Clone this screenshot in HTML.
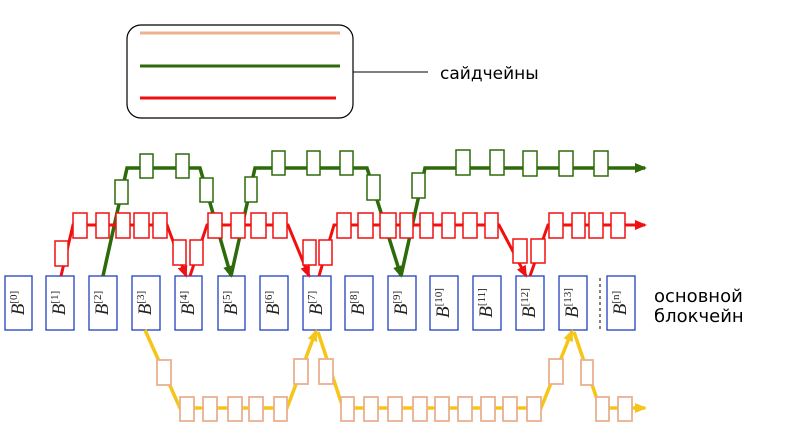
<!DOCTYPE html>
<html><head><meta charset="utf-8"><style>body{margin:0;background:#fff;position:relative;width:799px;height:445px;overflow:hidden}svg{display:block;position:absolute;left:0;top:0}
.b{position:absolute;top:276px;width:54px;height:28px;line-height:28px;text-align:center;font-family:"Liberation Serif",serif;font-style:italic;font-size:19px;color:#222;transform-origin:0 0;transform:rotate(-90deg);white-space:nowrap}
.b sup{font-style:normal;font-size:11px;vertical-align:7px;line-height:0}</style></head><body>
<svg width="799" height="445" viewBox="0 0 799 445" xmlns="http://www.w3.org/2000/svg" font-family="DejaVu Sans, sans-serif">
<defs>
<marker id="ag" markerWidth="12" markerHeight="10" refX="10" refY="5" orient="auto" markerUnits="userSpaceOnUse"><path d="M0,0L12,5L0,10z" fill="#2d6a0a"/></marker>
<marker id="ar" markerWidth="12" markerHeight="10" refX="10" refY="5" orient="auto" markerUnits="userSpaceOnUse"><path d="M0,0L12,5L0,10z" fill="#f01010"/></marker>
<marker id="ay" markerWidth="12" markerHeight="10" refX="10" refY="5" orient="auto" markerUnits="userSpaceOnUse"><path d="M0,0L12,5L0,10z" fill="#f5c518"/></marker>
</defs>
<rect x="127" y="25" width="226" height="93" rx="14" fill="#fff" stroke="#000" stroke-width="1.2"/>
<line x1="140" y1="33" x2="340" y2="33" stroke="#f0b090" stroke-width="3"/>
<line x1="140" y1="66" x2="340" y2="66" stroke="#2d6a0a" stroke-width="3"/>
<line x1="140" y1="98" x2="336" y2="98" stroke="#f01010" stroke-width="3"/>
<line x1="353" y1="72" x2="428" y2="72" stroke="#000" stroke-width="1"/>
<text x="440" y="79" font-size="17">сайдчейны</text>
<text x="654" y="302" font-size="18">основной</text>
<text x="654" y="322" font-size="18">блокчейн</text>
<line x1="600" y1="278" x2="600" y2="330" stroke="#000" stroke-dasharray="3,3" stroke-width="1"/>
<g fill="#fff" stroke="#2040c0" stroke-width="1.3">
<rect x="5" y="276" width="27" height="54"/><rect x="46" y="276" width="28" height="54"/><rect x="89" y="276" width="28" height="54"/><rect x="132" y="276" width="28" height="54"/><rect x="175" y="276" width="27" height="54"/><rect x="218" y="276" width="27" height="54"/><rect x="260" y="276" width="28" height="54"/><rect x="303" y="276" width="28" height="54"/><rect x="345" y="276" width="28" height="54"/><rect x="388" y="276" width="28" height="54"/><rect x="430" y="276" width="28" height="54"/><rect x="473" y="276" width="28" height="54"/><rect x="516" y="276" width="28" height="54"/><rect x="559" y="276" width="28" height="54"/><rect x="607" y="276" width="28" height="54"/>
</g>
<g fill="none" stroke="#2d6a0a" stroke-width="3.5">
<path d="M103,276 L127,168 L200,168 L231,276" marker-end="url(#ag)"/>
<path d="M231,276 L255,168 L367,168 L401,276" marker-end="url(#ag)"/>
<path d="M401,276 L425,168 L645,168" marker-end="url(#ag)"/>
</g>
<g fill="#fff" stroke="#2d6a0a" stroke-width="1.5">
<rect x="115" y="180" width="13" height="24"/><rect x="140" y="154" width="13" height="24"/><rect x="176" y="154" width="13" height="24"/><rect x="200" y="178" width="13" height="24"/>
<rect x="245" y="177" width="12" height="25"/><rect x="272" y="151" width="13" height="24"/><rect x="307" y="151" width="13" height="24"/><rect x="340" y="151" width="13" height="24"/><rect x="367" y="175" width="13" height="25"/>
<rect x="412" y="173" width="13" height="25"/><rect x="456" y="150" width="14" height="25"/><rect x="490" y="150" width="14" height="25"/><rect x="523" y="151" width="14" height="25"/><rect x="559" y="151" width="14" height="25"/><rect x="594" y="151" width="14" height="25"/>
</g>
<g fill="none" stroke="#f01010" stroke-width="3">
<path d="M61,276 L73,225 L167,225 L186,276" marker-end="url(#ar)"/>
<path d="M190,276 L207,225 L288,225 L309,276" marker-end="url(#ar)"/>
<path d="M319,276 L334,225 L499,225 L526,276" marker-end="url(#ar)"/>
<path d="M530,276 L548,225 L645,225" marker-end="url(#ar)"/>
</g>
<g fill="#fff" stroke="#f01010" stroke-width="1.5">
<rect x="55" y="241" width="13" height="25"/><rect x="73" y="213" width="14" height="25"/><rect x="96" y="213" width="13" height="25"/><rect x="116" y="213" width="14" height="25"/><rect x="134" y="213" width="15" height="25"/><rect x="153" y="213" width="14" height="25"/><rect x="173" y="240" width="13" height="25"/>
<rect x="190" y="240" width="13" height="25"/><rect x="208" y="213" width="14" height="25"/><rect x="231" y="213" width="14" height="25"/><rect x="251" y="213" width="15" height="25"/><rect x="273" y="213" width="14" height="25"/><rect x="303" y="240" width="13" height="25"/>
<rect x="319" y="240" width="13" height="25"/><rect x="337" y="213" width="14" height="25"/><rect x="358" y="213" width="15" height="25"/><rect x="380" y="213" width="16" height="25"/><rect x="400" y="213" width="13" height="25"/><rect x="420" y="213" width="13" height="25"/><rect x="442" y="213" width="13" height="25"/><rect x="463" y="213" width="14" height="25"/><rect x="485" y="213" width="13" height="25"/><rect x="513" y="239" width="14" height="24"/>
<rect x="531" y="239" width="14" height="24"/><rect x="549" y="213" width="14" height="25"/><rect x="572" y="213" width="13" height="25"/><rect x="589" y="213" width="14" height="25"/><rect x="611" y="213" width="14" height="25"/>
</g>
<g fill="none" stroke="#f5c518" stroke-width="3.5">
<path d="M145,330 L180,408 L287,408 L316,331" marker-end="url(#ay)"/>
<path d="M318,332 L343,408 L541,408 L572,331" marker-end="url(#ay)"/>
<path d="M574,332 L600,408 L645,408" marker-end="url(#ay)"/>
</g>
<g fill="#fff" stroke="#eab090" stroke-width="1.8">
<rect x="157" y="360" width="14" height="25"/><rect x="180" y="397" width="14" height="24"/><rect x="203" y="397" width="14" height="24"/><rect x="228" y="397" width="14" height="24"/><rect x="249" y="397" width="14" height="24"/><rect x="274" y="397" width="13" height="24"/><rect x="294" y="359" width="14" height="25"/>
<rect x="319" y="359" width="14" height="25"/><rect x="341" y="397" width="13" height="24"/><rect x="364" y="397" width="14" height="24"/><rect x="388" y="397" width="14" height="24"/><rect x="413" y="397" width="14" height="24"/><rect x="435" y="397" width="14" height="24"/><rect x="458" y="397" width="14" height="24"/><rect x="481" y="397" width="14" height="24"/><rect x="503" y="397" width="14" height="24"/><rect x="527" y="397" width="14" height="24"/><rect x="549" y="359" width="14" height="25"/>
<rect x="581" y="360" width="12" height="25"/><rect x="596" y="397" width="13" height="24"/><rect x="618" y="397" width="14" height="24"/>
</g>
</svg>
<div class="b" style="left:5px;top:330px">B<sup>[0]</sup></div>
<div class="b" style="left:46px;top:330px">B<sup>[1]</sup></div>
<div class="b" style="left:89px;top:330px">B<sup>[2]</sup></div>
<div class="b" style="left:132px;top:330px">B<sup>[3]</sup></div>
<div class="b" style="left:175px;top:330px">B<sup>[4]</sup></div>
<div class="b" style="left:218px;top:330px">B<sup>[5]</sup></div>
<div class="b" style="left:260px;top:330px">B<sup>[6]</sup></div>
<div class="b" style="left:303px;top:330px">B<sup>[7]</sup></div>
<div class="b" style="left:345px;top:330px">B<sup>[8]</sup></div>
<div class="b" style="left:388px;top:330px">B<sup>[9]</sup></div>
<div class="b" style="left:430px;top:330px">B<sup>[10]</sup></div>
<div class="b" style="left:473px;top:330px">B<sup>[11]</sup></div>
<div class="b" style="left:516px;top:330px">B<sup>[12]</sup></div>
<div class="b" style="left:559px;top:330px">B<sup>[13]</sup></div>
<div class="b" style="left:607px;top:330px">B<sup>[n]</sup></div>
</body></html>
